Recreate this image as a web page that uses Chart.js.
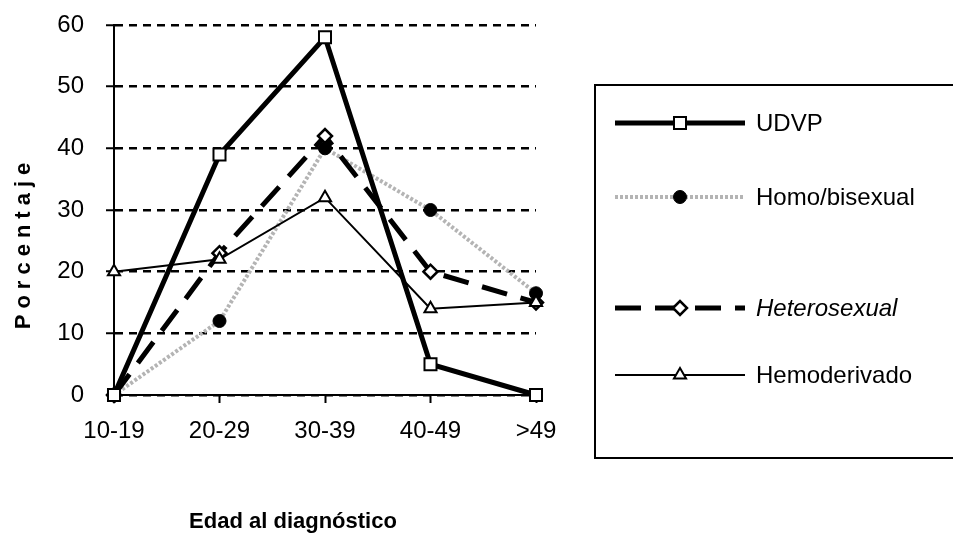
<!DOCTYPE html>
<html>
<head>
<meta charset="utf-8">
<script src="https://cdn.jsdelivr.net/npm/chart.js@4/dist/chart.umd.min.js"></script>
<style>
  html, body { margin: 0; padding: 0; background: #fff; }
  #wrap { width: 953px; height: 542px; position: relative; }
</style>
</head>
<body>
<div id="wrap"><canvas id="edadChart"></canvas></div>
<script>
// Data
const categories = ['10-19', '20-29', '30-39', '40-49', '>49'];
const udvp = [0, 39, 58, 5, 0];
const homoBisexual = [0, 12, 40, 30, 16.5];
const heterosexual = [0, 23, 42, 20, 15];
const hemoderivado = [20, 22, 32, 14, 15];
const yTicks = [0, 10, 20, 30, 40, 50, 60];

const FONT = '"Liberation Sans", Arial, sans-serif';

const datasets = [
    {
        label: 'UDVP',
        data: udvp,
        borderColor: '#000',
        borderWidth: 5,
        pointStyle: 'rect',
        pointRadius: 8.5,
        pointBackgroundColor: '#fff',
        pointBorderColor: '#000',
        pointBorderWidth: 2,
        order: 1
    },
    {
        label: 'Homo/bisexual',
        data: homoBisexual,
        borderColor: '#b4b4b4',
        borderWidth: 4,
        borderDash: [3, 2],
        pointStyle: 'circle',
        pointRadius: 6.5,
        pointBackgroundColor: '#000',
        pointBorderColor: '#000',
        pointBorderWidth: 1,
        order: 4
    },
    {
        label: 'Heterosexual',
        data: heterosexual,
        borderColor: '#000',
        borderWidth: 5,
        borderDash: [26, 14],
        pointStyle: 'rectRot',
        pointRadius: 7,
        pointBackgroundColor: '#fff',
        pointBorderColor: '#000',
        pointBorderWidth: 2.5,
        order: 3
    },
    {
        label: 'Hemoderivado',
        data: hemoderivado,
        borderColor: '#000',
        borderWidth: 2,
        pointStyle: 'triangle',
        pointRadius: 7,
        pointBackgroundColor: '#fff',
        pointBorderColor: '#000',
        pointBorderWidth: 2,
        order: 2
    }
];

// Boxed legend on the right, spaced-out y title and the x title
const boxedLegend = {
    id: 'boxedLegend',
    afterDraw(chart) {
        const ctx = chart.ctx;
        ctx.save();
        // frame (right side runs off the canvas)
        ctx.strokeStyle = '#000';
        ctx.lineWidth = 2;
        ctx.beginPath();
        ctx.moveTo(960, 85);
        ctx.lineTo(595, 85);
        ctx.lineTo(595, 458);
        ctx.lineTo(960, 458);
        ctx.stroke();

        const rows = [123, 197, 308, 375];
        chart.data.datasets.forEach((ds, i) => {
            const y = rows[i];
            ctx.save();
            ctx.strokeStyle = ds.borderColor;
            ctx.lineWidth = ds.borderWidth;
            ctx.setLineDash(ds.borderDash || []);
            ctx.beginPath();
            ctx.moveTo(615, y);
            ctx.lineTo(745, y);
            ctx.stroke();
            ctx.setLineDash([]);
            ctx.fillStyle = ds.pointBackgroundColor;
            ctx.strokeStyle = ds.pointBorderColor;
            ctx.lineWidth = ds.pointBorderWidth;
            Chart.helpers.drawPoint(ctx, {
                pointStyle: ds.pointStyle,
                radius: ds.pointRadius,
                rotation: 0,
                borderWidth: ds.pointBorderWidth
            }, 680, y);
            ctx.restore();

            ctx.fillStyle = '#000';
            ctx.font = (i === 2 ? 'italic ' : '') + '24px ' + FONT;
            ctx.textBaseline = 'middle';
            ctx.textAlign = 'left';
            ctx.fillText(ds.label, 756, y + 1);
        });

        // x axis title
        ctx.font = 'bold 22px ' + FONT;
        ctx.textAlign = 'center';
        ctx.textBaseline = 'middle';
        ctx.fillText('Edad al diagnóstico', 293, 522);

        // y axis title with wide letter spacing
        ctx.translate(24, 246);
        ctx.rotate(-Math.PI / 2);
        ctx.font = 'bold 22px ' + FONT;
        ctx.letterSpacing = '6px';
        ctx.fillText('Porcentaje', 3, 0);
        ctx.restore();
    }
};

const ctxLine = document.getElementById('edadChart').getContext('2d');
const edadChart = new Chart(ctxLine, {
    type: 'line',
    data: { labels: categories, datasets: datasets },
    options: {
        responsive: true,
        maintainAspectRatio: false,
        animation: false,
        clip: false,
        elements: { line: { tension: 0, fill: false } },
        layout: { padding: { top: 25, right: 417, left: 0, bottom: 0 } },
        scales: {
            x: {
                offset: false,
                afterFit: (scale) => { scale.height = 147; },
                grid: {
                    display: true,
                    drawOnChartArea: false,
                    drawTicks: true,
                    tickLength: 8,
                    tickColor: '#000',
                    tickWidth: 2
                },
                border: { display: true, color: '#000', width: 2 },
                ticks: {
                    color: '#000',
                    padding: 14,
                    maxRotation: 0,
                    font: { family: FONT, size: 24 }
                }
            },
            y: {
                min: 0,
                max: 60,
                afterFit: (scale) => {
                    scale.width = 114;
                    scale.paddingTop = 0;
                    scale.paddingBottom = 0;
                },
                afterBuildTicks: (scale) => {
                    scale.ticks = yTicks.map(v => ({ value: v }));
                },
                grid: {
                    color: '#000',
                    lineWidth: 2.5,
                    drawTicks: true,
                    tickLength: 8,
                    tickColor: '#000',
                    tickWidth: 2,
                    tickBorderDash: []
                },
                border: { display: true, color: '#000', width: 2, dash: [8, 6] },
                ticks: {
                    color: '#000',
                    padding: 22,
                    font: { family: FONT, size: 24 }
                }
            }
        },
        plugins: {
            legend: { display: false },
            tooltip: { enabled: false }
        }
    },
    plugins: [boxedLegend]
});
</script>
</body>
</html>
